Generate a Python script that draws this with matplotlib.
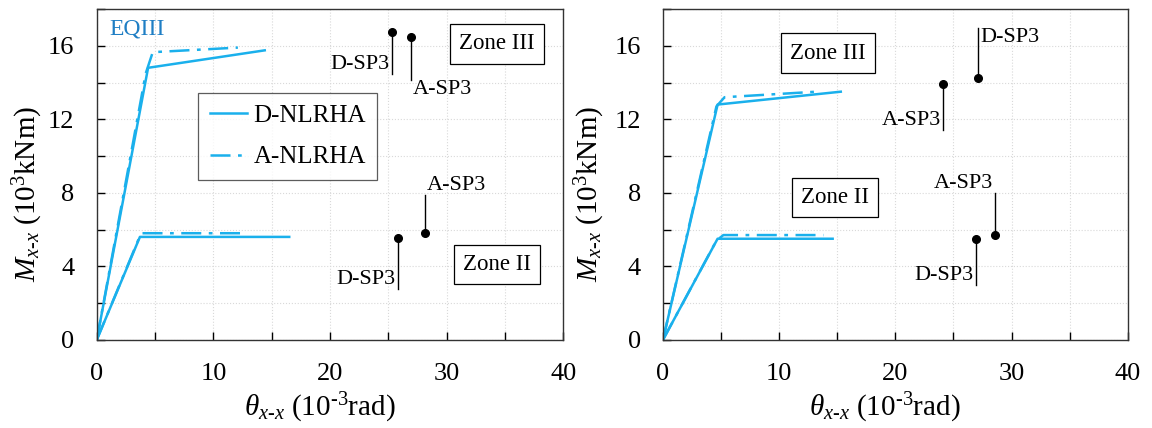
"""Moment-rotation backbone curves, D-/A-NLRHA vs SP3 points."""

import matplotlib.pyplot as plt
from matplotlib.ticker import MultipleLocator

plt.rcParams["font.family"] = ["Liberation Serif", "DejaVu Serif"]
plt.rcParams["mathtext.fontset"] = "custom"
plt.rcParams["mathtext.rm"] = "Liberation Serif"
plt.rcParams["mathtext.it"] = "Liberation Serif:italic"

LINE_COLOR = "#1AB0EC"

# ---- left panel (EQIII) ----
left_d3_x = [0.0, 4.4, 14.4]
left_d3_y = [0.0, 14.8, 15.75]
left_a3_x = [0.0, 4.2, 4.8, 12.1]
left_a3_y = [0.0, 14.5, 15.65, 15.9]
left_d2_x = [0.0, 3.7, 16.5]
left_d2_y = [0.0, 5.6, 5.6]
left_a2_x = [0.0, 3.6, 3.9, 12.4]
left_a2_y = [0.0, 5.5, 5.8, 5.8]

# SP3 points: (label, x, y)
left_sp3 = [("D-SP3", 25.3, 16.75), ("A-SP3", 26.9, 16.45),
            ("A-SP3", 28.1, 5.8), ("D-SP3", 25.8, 5.55)]

# ---- right panel ----
right_d3_x = [0.0, 4.7, 15.3]
right_d3_y = [0.0, 12.8, 13.5]
right_a3_x = [0.0, 4.6, 5.3, 13.2]
right_a3_y = [0.0, 12.7, 13.2, 13.5]
right_d2_x = [0.0, 4.7, 14.6]
right_d2_y = [0.0, 5.5, 5.5]
right_a2_x = [0.0, 4.6, 5.2, 13.8]
right_a2_y = [0.0, 5.4, 5.7, 5.7]

right_sp3 = [("D-SP3", 27.1, 14.25), ("A-SP3", 24.1, 13.9),
             ("A-SP3", 28.6, 5.7), ("D-SP3", 26.9, 5.5)]


def style_axes(ax, ylabel_x):
    ax.set_xlim(0, 40)
    ax.set_ylim(0, 18)
    ax.xaxis.set_major_locator(MultipleLocator(10))
    ax.xaxis.set_minor_locator(MultipleLocator(5))
    ax.yaxis.set_major_locator(MultipleLocator(4))
    ax.yaxis.set_minor_locator(MultipleLocator(2))
    ax.tick_params(which="both", direction="in", length=6, width=1,
                   labelsize=19, top=False, right=False)
    ax.tick_params(axis="x", pad=17)
    ax.tick_params(axis="y", pad=16)
    ax.grid(which="both", color="#d9d9d9", linestyle=":", linewidth=0.8)
    ax.set_axisbelow(True)
    for sp in ax.spines.values():
        sp.set_linewidth(1.0)
        sp.set_color("#333333")
    ax.set_xlabel(r"$\theta_{x\text{-}x}$ (10$^{\text{-}3}$rad)", fontsize=21)
    ax.set_ylabel(r"$M_{x\text{-}x}$ (10$^{3}$kNm)", fontsize=21)
    ax.xaxis.set_label_coords(0.477, -0.155)
    ax.yaxis.set_label_coords(ylabel_x, 0.44)


def draw_curves(ax, d3, a3, d2, a2):
    ax.plot(*d3, color=LINE_COLOR, lw=1.8, label="D-NLRHA")
    ax.plot(*a3, color=LINE_COLOR, lw=1.8, ls=(0, (8, 3, 1.5, 3)),
            label="A-NLRHA")
    ax.plot(*d2, color=LINE_COLOR, lw=1.8)
    ax.plot(*a2, color=LINE_COLOR, lw=1.8, ls=(0, (8, 3, 1.5, 3)))


def draw_sp3(ax, points, offsets):
    for (label, x, y), (dy, ha, va) in zip(points, offsets):
        ax.plot(x, y, "o", color="black", ms=5.5, zorder=5)
        ax.plot([x, x], [y, y + dy], color="black", lw=1.0)
        ax.text(x + (-0.2 if ha == "right" else 0.2), y + dy, label,
                ha=ha, va=va, fontsize=16)


def zone_box(ax, x, y, text):
    ax.text(x, y, text, ha="center", va="center", fontsize=16.5,
            bbox=dict(boxstyle="square,pad=0.4", fc="white", ec="black",
                      lw=0.9))


fig = plt.figure(figsize=(11.52, 4.28), dpi=100)
ax1 = fig.add_axes([0.084, 0.206, 0.405, 0.773])
ax2 = fig.add_axes([0.5755, 0.206, 0.4035, 0.773])

# left
draw_curves(ax1, (left_d3_x, left_d3_y), (left_a3_x, left_a3_y),
            (left_d2_x, left_d2_y), (left_a2_x, left_a2_y))
style_axes(ax1, -0.112)
draw_sp3(ax1, left_sp3, [(-2.3, "right", "bottom"),
                         (-2.3, "left", "top"),
                         (2.1, "left", "bottom"),
                         (-2.8, "right", "bottom")])
zone_box(ax1, 34.3, 16.1, "Zone III")
zone_box(ax1, 34.3, 4.1, "Zone II")
ax1.text(1.1, 16.9, "EQIII", color="#1F7EC4", fontsize=17,
         ha="left", va="center")
leg = ax1.legend(loc="upper left", bbox_to_anchor=(0.218, 0.745),
                 fontsize=18, frameon=True, fancybox=False,
                 edgecolor="#333333", handlelength=1.5, borderpad=0.45,
                 labelspacing=0.75, handletextpad=0.25,
                 borderaxespad=0.0)
leg.get_frame().set_linewidth(0.9)

# right
draw_curves(ax2, (right_d3_x, right_d3_y), (right_a3_x, right_a3_y),
            (right_d2_x, right_d2_y), (right_a2_x, right_a2_y))
style_axes(ax2, -0.121)
draw_sp3(ax2, right_sp3, [(2.7, "left", "top"),
                          (-2.5, "right", "bottom"),
                          (2.3, "right", "bottom"),
                          (-2.5, "right", "bottom")])
zone_box(ax2, 14.2, 15.6, "Zone III")
zone_box(ax2, 14.8, 7.75, "Zone II")

fig.savefig("out.png", dpi=100)
